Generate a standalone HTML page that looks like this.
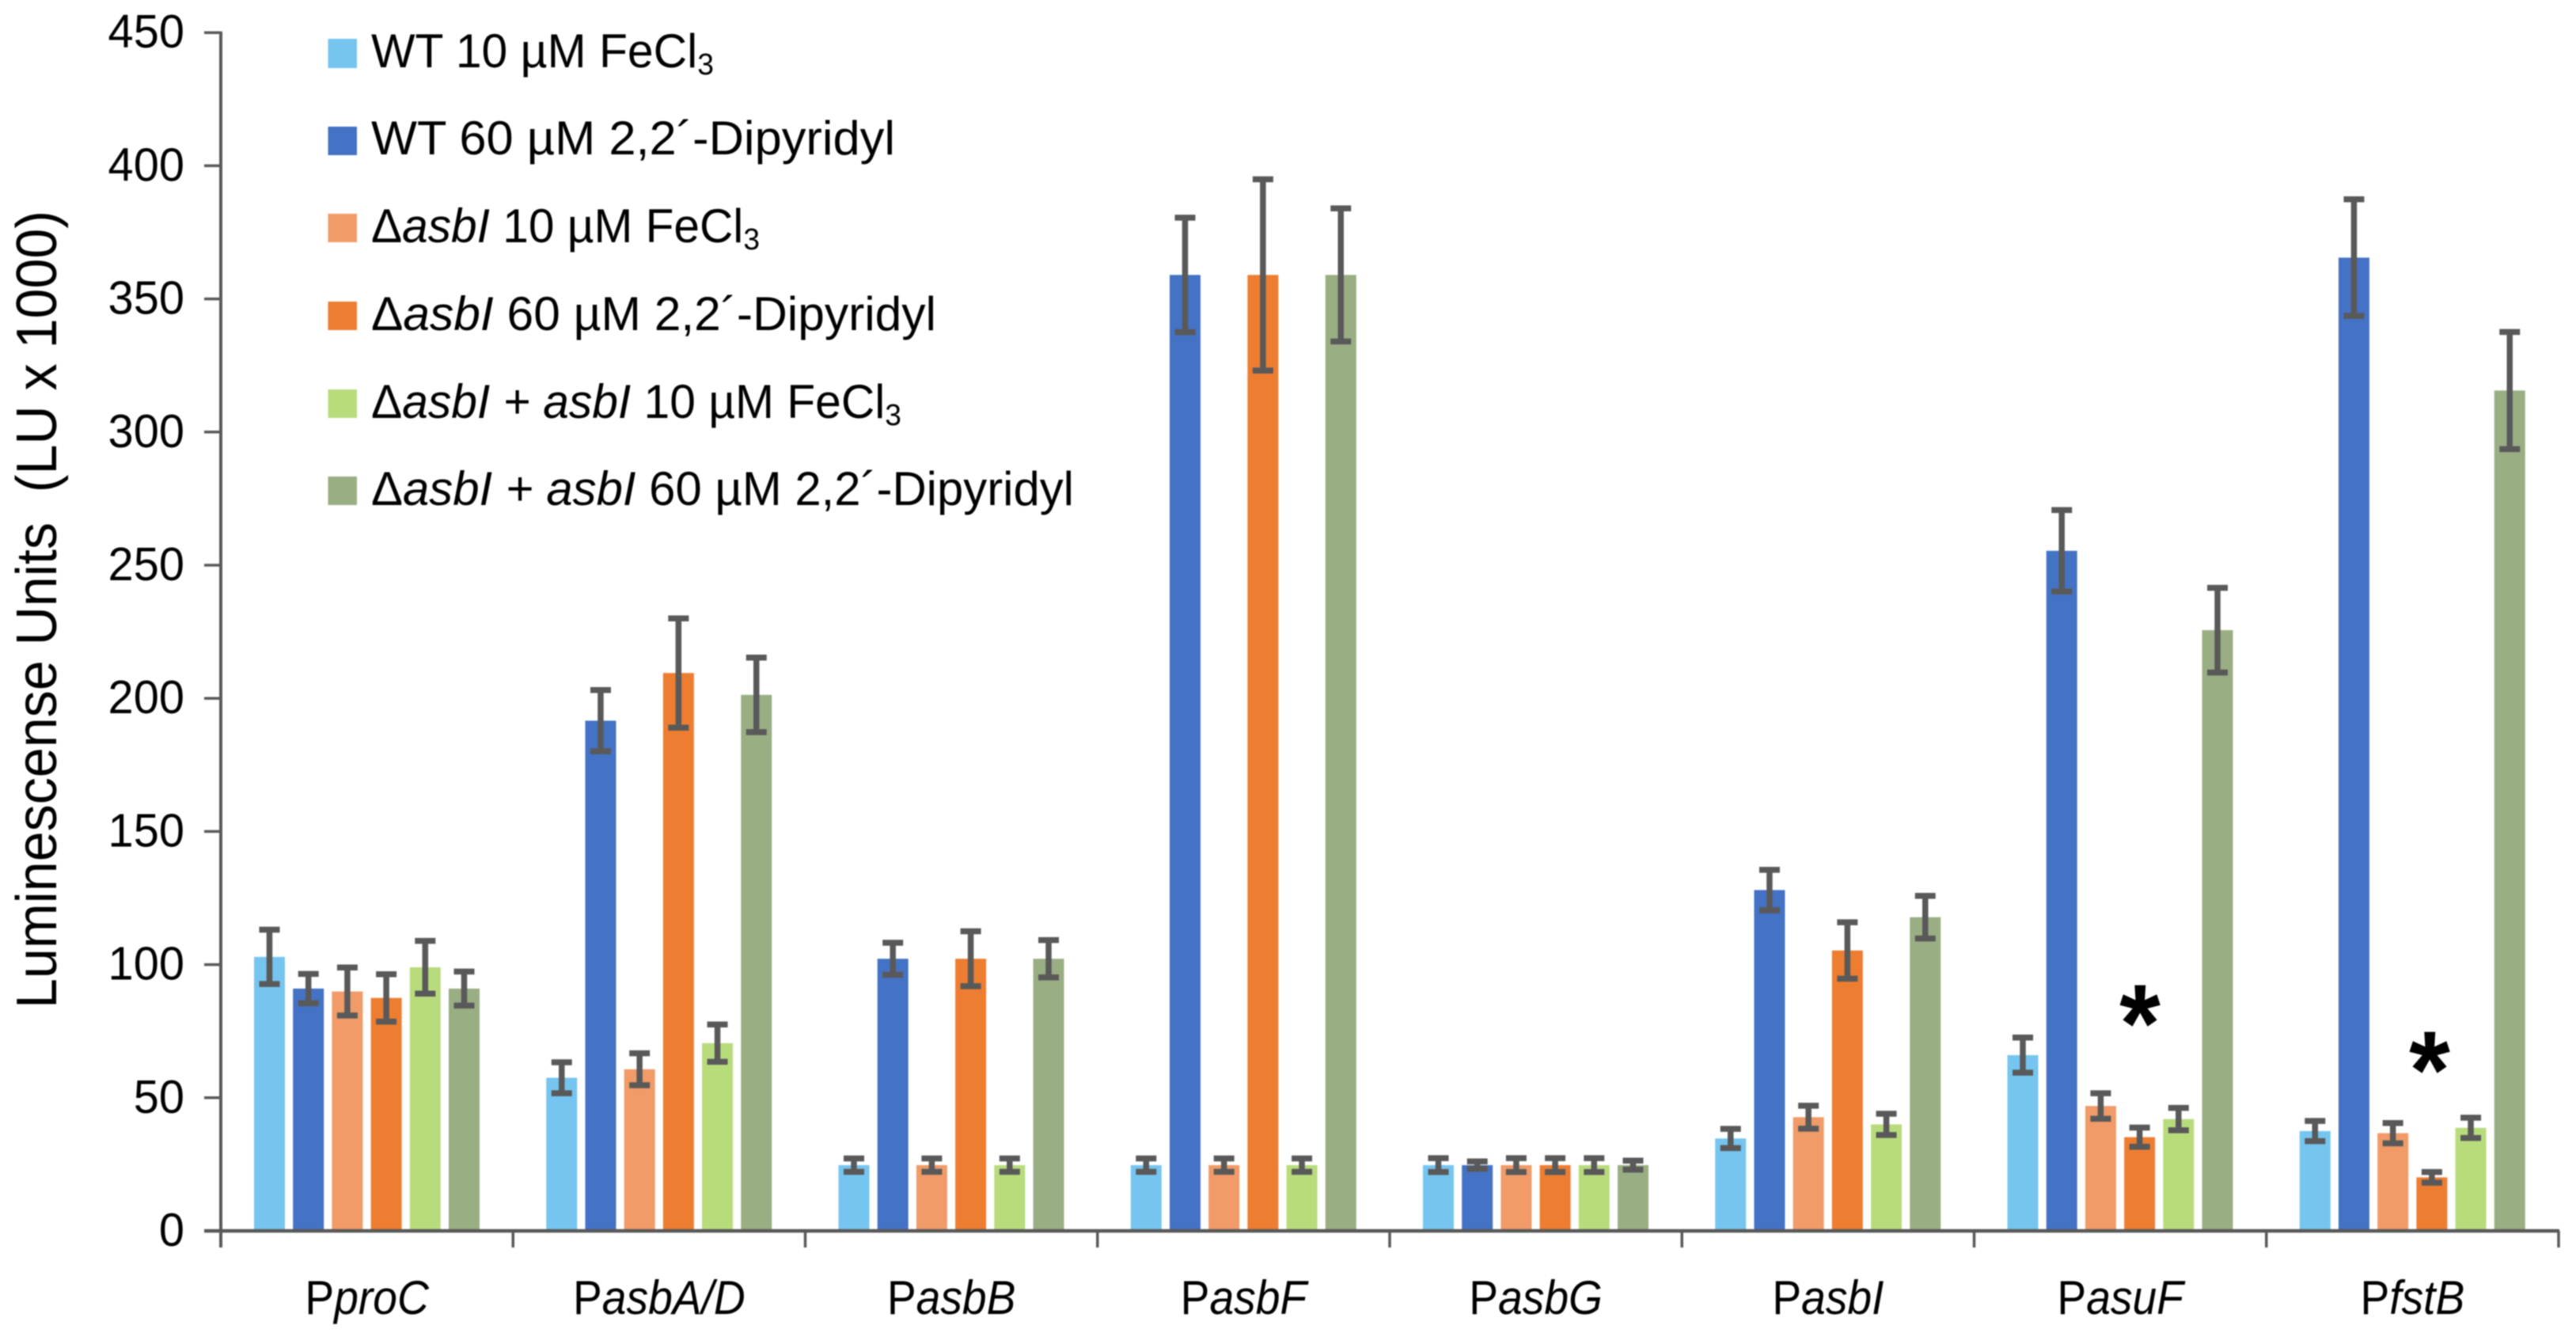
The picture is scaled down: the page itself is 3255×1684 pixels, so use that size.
<!DOCTYPE html>
<html lang="en">
<head>
<meta charset="utf-8">
<title>Luminescence Units by promoter</title>
<style>
  html, body { margin: 0; padding: 0; background: #fff; }
  svg { display: block; filter: blur(0.7px); }
  text { font-family: "Liberation Sans", sans-serif; fill: #000; }
  .leg { font-size: 60px; }
  .it { font-style: italic; }
</style>
</head>
<body>
<svg id="chart" xmlns="http://www.w3.org/2000/svg" width="3255" height="1684" viewBox="0 0 3255 1684">
  <rect x="0" y="0" width="3255" height="1684" fill="#ffffff"/>
  <g id="bars"></g>
  <g id="errors"></g>
  <g id="axes"></g>

  <text transform="translate(71,1274) rotate(-90)" font-size="72" textLength="1008" lengthAdjust="spacingAndGlyphs">Luminescense Units &#160;(LU x 1000)</text>

  <g>
    <g>
      <rect x="414.5" y="49" width="36.5" height="37" fill="#75c5f0"/>
      <text class="leg" x="469" y="85" textLength="433" lengthAdjust="spacingAndGlyphs">WT 10 µM FeCl<tspan dy="9" font-size="38">3</tspan></text>
    </g>
    <g>
      <rect x="414.5" y="160" width="36.5" height="36" fill="#4472c4"/>
      <text class="leg" x="469" y="195" textLength="662" lengthAdjust="spacingAndGlyphs">WT 60 µM 2,2´-Dipyridyl</text>
    </g>
    <g>
      <rect x="414.5" y="270" width="36.5" height="36" fill="#f09b68"/>
      <text class="leg" x="469" y="306" textLength="491" lengthAdjust="spacingAndGlyphs">Δ<tspan class="it">asbI</tspan> 10 µM FeCl<tspan dy="9" font-size="38">3</tspan></text>
    </g>
    <g>
      <rect x="414.5" y="381" width="36.5" height="36" fill="#ed7d31"/>
      <text class="leg" x="469" y="417" textLength="714" lengthAdjust="spacingAndGlyphs">Δ<tspan class="it">asbI</tspan> 60 µM 2,2´-Dipyridyl</text>
    </g>
    <g>
      <rect x="414.5" y="492" width="36.5" height="36" fill="#b8dc7c"/>
      <text class="leg" x="469" y="528" textLength="670" lengthAdjust="spacingAndGlyphs">Δ<tspan class="it">asbI + asbI</tspan> 10 µM FeCl<tspan dy="9" font-size="38">3</tspan></text>
    </g>
    <g>
      <rect x="414.5" y="602" width="36.5" height="36" fill="#9aae84"/>
      <text class="leg" x="469" y="638" textLength="888" lengthAdjust="spacingAndGlyphs">Δ<tspan class="it">asbI + asbI</tspan> 60 µM 2,2´-Dipyridyl</text>
    </g>
  </g>

  <text transform="translate(2704,1341) scale(0.95,1)" font-size="140" font-weight="bold" text-anchor="middle">*</text>
  <text transform="translate(3070,1400) scale(0.95,1)" font-size="140" font-weight="bold" text-anchor="middle">*</text>
</svg>

<script>
const categoryNames = ["proC", "asbA/D", "asbB", "asbF", "asbG", "asbI", "asuF", "fstB"];
const yTickLabels = [0, 50, 100, 150, 200, 250, 300, 350, 400, 450];

const wtFe = [102.9, 57.5, 24.7, 24.7, 24.7, 34.7, 66, 37.5];
const wtDip = [91, 191.6, 102.2, 359, 24.7, 128, 255.4, 365.5];
const mutFe = [89.9, 60.7, 24.7, 24.7, 24.7, 42.7, 46.9, 36.7];
const mutDip = [87.5, 209.5, 102.2, 359, 24.7, 105.3, 35.2, 20.1];
const compFe = [99, 70.5, 24.7, 24.7, 24.7, 40, 42, 38.7];
const compDip = [91, 201.3, 102.2, 359, 24.7, 117.8, 225.6, 315.6];

const wtFeErr = [10.2, 5.8, 2.5, 2.5, 2.6, 3.6, 6.6, 3.8];
const wtDipErr = [5.5, 11.5, 6, 21.5, 1.4, 7.6, 15.3, 21.9];
const mutFeErr = [9, 6, 2.5, 2.5, 2.6, 4.3, 4.8, 3.8];
const mutDipErr = [8.9, 20.5, 10.3, 35.9, 2.6, 10.6, 3.6, 2];
const compFeErr = [9.9, 7, 2.5, 2.5, 2.6, 4, 4.2, 3.8];
const compDipErr = [6.4, 14, 7, 25, 1.7, 8, 15.9, 22];

const seriesValues = [wtFe, wtDip, mutFe, mutDip, compFe, compDip];
const seriesErrors = [wtFeErr, wtDipErr, mutFeErr, mutDipErr, compFeErr, compDipErr];
const seriesColors = ["#75c5f0", "#4472c4", "#f09b68", "#ed7d31", "#b8dc7c", "#9aae84"];
const seriesKeys = ["wt-fe", "wt-dip", "mut-fe", "mut-dip", "comp-fe", "comp-dip"];

const NS = "http://www.w3.org/2000/svg";
const AXIS_COLOR = "#595959";
const Y_ZERO = 1555, Y_PER_UNIT = 3.364;
const X_ORIGIN = 279, GROUP_W = 369.25, BAR_W = 39, BAR_PITCH = 49.2, BAR_OFFSET = 42;

function yScale(v) { return Y_ZERO - v * Y_PER_UNIT; }
function groupX(i) { return X_ORIGIN + i * GROUP_W; }
function barX(g, s) { return groupX(g) + BAR_OFFSET + s * BAR_PITCH; }

function make(tag, parent) {
  const el = document.createElementNS(NS, tag);
  parent.appendChild(el);
  return el;
}
function setAll(el, attrs) {
  for (const k in attrs) el.setAttribute(k, attrs[k]);
}

const barsLayer = document.getElementById("bars");
const errorsLayer = document.getElementById("errors");
const axesLayer = document.getElementById("axes");

seriesValues.forEach(function (values, s) {
  values.forEach(function (v, g) {
    const bar = make("rect", barsLayer);
    setAll(bar, { x: barX(g, s), y: yScale(v), width: BAR_W, height: Y_ZERO - yScale(v), fill: seriesColors[s] });
    
    

    const e = seriesErrors[s][g];
    const cx = barX(g, s) + BAR_W / 2;
    const eb = make("path", errorsLayer);
    const hi = yScale(v + e), lo = yScale(v - e);
    setAll(eb, {
      d: "M" + cx + " " + hi + "V" + lo + "M" + (cx - 13) + " " + hi + "H" + (cx + 13) + "M" + (cx - 13) + " " + lo + "H" + (cx + 13),
      stroke: AXIS_COLOR, "stroke-width": 7.5, fill: "none"
    });
    
    
  });
});

const yAxisLine = make("line", axesLayer);
setAll(yAxisLine, { x1: X_ORIGIN, x2: X_ORIGIN, y1: yScale(450) - 1.5, y2: Y_ZERO + 21, stroke: AXIS_COLOR, "stroke-width": 4 });



const xAxisLine = make("line", axesLayer);
setAll(xAxisLine, { x1: 258, x2: groupX(categoryNames.length) + 1, y1: Y_ZERO, y2: Y_ZERO, stroke: AXIS_COLOR, "stroke-width": 4.5 });



yTickLabels.forEach(function (t) {
  const y = yScale(t);
  const tick = make("line", axesLayer);
  setAll(tick, { x1: 258, x2: X_ORIGIN, y1: y, y2: y, stroke: AXIS_COLOR, "stroke-width": 3.5 });
  
  

  const label = make("text", axesLayer);
  setAll(label, { transform: "translate(233," + (y + 19) + ") scale(0.98,1)", "font-size": 59, "text-anchor": "end" });
  label.textContent = String(t);
  
  
});

for (let i = 1; i <= categoryNames.length; i++) {
  const tick = make("line", axesLayer);
  setAll(tick, { x1: groupX(i), x2: groupX(i), y1: Y_ZERO, y2: Y_ZERO + 21, stroke: AXIS_COLOR, "stroke-width": 3.5 });
  
  
}

categoryNames.forEach(function (name, i) {
  const label = make("text", axesLayer);
  setAll(label, { transform: "translate(" + (groupX(i) + GROUP_W / 2) + ",1660) scale(0.92,1)", "font-size": 60, "text-anchor": "middle" });
  const p = make("tspan", label);
  p.textContent = "P";
  const rest = make("tspan", label);
  rest.setAttribute("class", "it");
  rest.textContent = name;
  
  
});
</script>
</body>
</html>
